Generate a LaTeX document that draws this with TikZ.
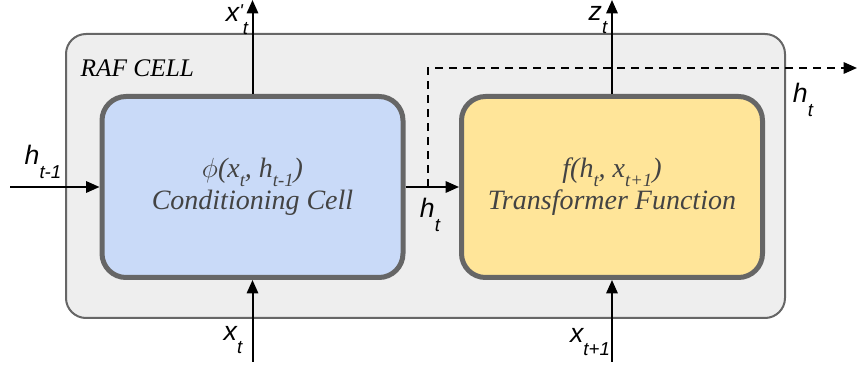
\documentclass[tikz,border=0pt]{standalone}
\usepackage{fontspec}
\newfontfamily\cellfont{Liberation Serif}
\newfontfamily\labelfont{Liberation Sans}
\usetikzlibrary{positioning,arrows.meta}

\definecolor{cellgray}{HTML}{EEEEEE}
\definecolor{edgegray}{HTML}{666666}
\definecolor{condblue}{HTML}{C9DAF8}
\definecolor{transyellow}{HTML}{FFE599}
\definecolor{textgray}{HTML}{434343}

% variable with a lowered index
\newcommand{\var}[2]{#1\raisebox{-0.5em}{\fontsize{14}{14}\selectfont #2}}
\newcommand{\idx}[1]{\raisebox{-0.3em}{\fontsize{14}{14}\selectfont #1}}

\begin{document}
\begin{tikzpicture}[x=0.75pt,y=-0.75pt,
    inner/.style={rounded corners=18pt,draw=edgegray,line width=3.75pt,
      minimum width=225.75pt,minimum height=135.75pt,align=center,
      text=textgray,font=\cellfont\itshape\fontsize{21}{24}\selectfont},
    arr/.style={line width=1.5pt,-{Triangle[length=10pt,width=8.5pt]}},
    lbl/.style={font=\labelfont\itshape\fontsize{20}{22}\selectfont,inner sep=0pt}]
    \useasboundingbox (0,0) rectangle (857,370);

    % RAF cell
    \node[rounded corners=15pt,draw=edgegray,line width=1.5pt,fill=cellgray,
      minimum width=539.25pt,minimum height=213pt] (raf) at (425.5,176) {};
    \node[font=\cellfont\itshape\fontsize{19}{19}\selectfont,anchor=west] (rafname) at (76,68) {RAF CELL};

    % the two inner blocks
    \node[inner,fill=condblue] (cond) at (252.5,187)
      {$\phi$(x\idx{t}, h\idx{t-1})\\Conditioning Cell};
    \node[inner,fill=transyellow] (trans) at (612,187)
      {f(h\idx{t}, x\idx{t+1})\\Transformer Function};

    % free ends
    \coordinate (hin) at (10,187);
    \coordinate (xin) at (252.5,362);
    \coordinate (xnext) at (612,362);
    \coordinate (xout) at (252.5,0);
    \coordinate (zout) at (612,0);
    \coordinate (split) at (428,187);
    \coordinate (hout) at (857,68);

    % connectors
    \draw[arr] (hin) -- (cond.west);
    \draw[arr] (cond.east) -- (trans.west);
    \draw[arr] (xin) -- (cond.south);
    \draw[arr] (xnext) -- (trans.south);
    \draw[arr] (cond.north) -- (xout);
    \draw[arr] (trans.north) -- (zout);
    \draw[arr,dash pattern=on 6pt off 4.5pt] (split) |- (hout);

    % labels
    \node[lbl] (lhin) at (43,162) {\var{h}{t-1}};
    \node[lbl] (lht) at (430,215) {\var{h}{t}};
    \node[lbl] (lhout) at (803,100) {\var{h}{t}};
    \node[lbl] (lxin) at (233,340) {\var{x}{t}};
    \node[lbl] (lxnext) at (590,342) {\var{x}{t+1}};
    \node[lbl] (lxout) at (237,20) {\var{x}{\raisebox{0.9em}{'}t}};
    \node[lbl] (lzout) at (598,20) {\var{z}{t}};
\end{tikzpicture}
\end{document}
